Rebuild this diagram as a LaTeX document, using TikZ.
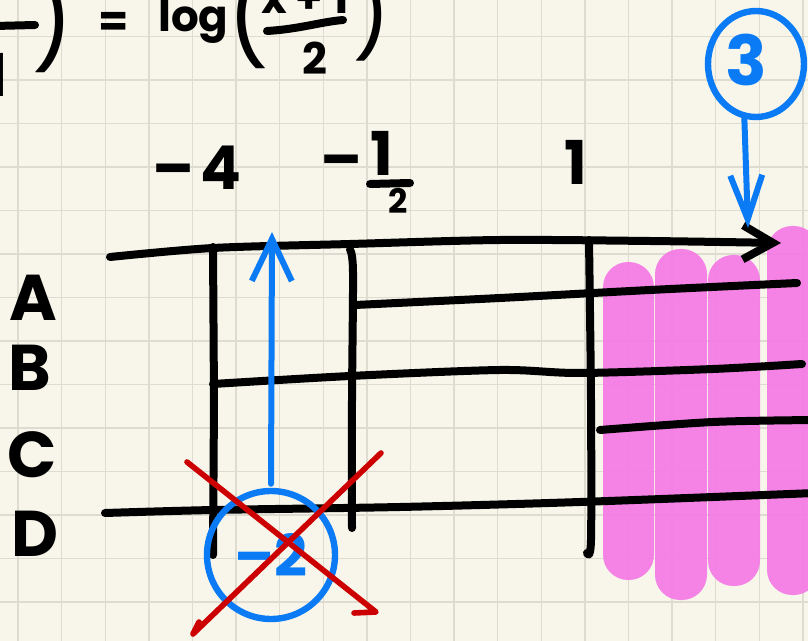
\documentclass[tikz,border=0pt]{standalone}
\usepackage{fontspec}
\setmainfont{Poppins}
\usepackage{tikz}
\usetikzlibrary{arrows.meta,calc,shapes.geometric}
\definecolor{paper}{HTML}{F8F6EB}
\definecolor{gridcol}{HTML}{DEDCD1}
\definecolor{inkblue}{HTML}{0A7BF4}
\definecolor{inkred}{HTML}{CC0000}
\definecolor{marker}{HTML}{F57AE6}
\newcommand\hsz[1]{\fontsize{#1}{#1}\selectfont}
\tikzset{
  hand/.style   ={inner sep=0pt, font=\bfseries},
  rowlab/.style ={hand, font=\bfseries\hsz{46}},
  ticklab/.style={hand, font=\bfseries\hsz{43}, anchor=base},
  formula/.style={hand, font=\bfseries\hsz{31}, anchor=base},
  paren/.style  ={hand, font=\hsz{66}},
  ink/.style    ={draw=black, line width=2mm, line cap=round, line join=round},
  blueink/.style={draw=inkblue, line width=1.5mm, line cap=round, line join=round},
  redink/.style ={draw=inkred, line width=1.4mm, line cap=round, line join=round},
  ring/.style   ={ellipse, draw=inkblue, line width=1.6mm, inner sep=0pt,
                  text=inkblue, font=\bfseries\hsz{41}},
  bar/.style    ={fill=marker, fill opacity=0.92, rounded corners=6.3mm},
  gridrule/.style={draw=gridcol, line width=0.35mm},
  % open hand-drawn heads
  upbarb/.style ={-{Straight Barb[length=10.5mm,width=10mm]}},
  axisbarb/.style={-{Straight Barb[length=7.5mm,width=8.5mm]}},
}
% pink marker strokes: x1/y1/x2/y2
\def\barlist{603/262/654/580, 655/249/707/600, 708/255/760/586, 767/226/819/595}
\def\rowlist{A/33/298, B/30/368, C/32/455, D/35/534}

\begin{document}
\begin{tikzpicture}[x=0.25mm,y=-0.25mm]
\useasboundingbox (0,0) rectangle (808,641);
\clip (0,0) rectangle (808,641);
% --- paper and squares ---
\fill[paper] (0,0) rectangle (808,641);
\foreach \i in {0,...,18}
  {\draw[gridrule] ({18+43.6*\i},0) -- ({18+43.6*\i},641);}
\foreach \j in {0,...,14}
  {\draw[gridrule] (0,{36.5+43.5*\j}) -- (808,{36.5+43.5*\j});}
% --- marker ---
\foreach \xa/\ya/\xb/\yb in \barlist
  {\fill[bar] (\xa,\ya) rectangle (\xb,\yb);}
% --- formula left over from above ---
\draw[ink] (-5,26) -- (35,25);
\node[formula,font=\bfseries\hsz{42}] (lone) at (-3,97) {1};
\node[paren] (lparA) at (53,21) {)};
\node[formula] (eq) at (114,37) {=};
\node[formula,anchor=base west] (logw) at (158,32) {log};
\node[paren] (lparB) at (249,17) {(};
\node[formula] (numr) at (305,14) {x + 1};
\draw[ink] (267,31) .. controls (300,29) and (320,22) .. (343,20);
\node[formula] (denm) at (315,75) {2};
\node[paren,font=\hsz{60}] (rparB) at (372,14) {)};
% --- tick values ---
\node[ticklab] (tfour) at (197,190) {–\hspace{1.5mm}4};
\node[ticklab] (thalfm) at (342,181) {–};
\node[ticklab] (thalfn) at (382,176) {1};
\node[ticklab,font=\bfseries\hsz{24}] (thalfd) at (398,214) {2};
\draw[ink] (370,184) -- (410,183);
\node[ticklab] (tone) at (576,185) {1};
% --- row names ---
\foreach \n/\x/\y in \rowlist
  {\node[rowlab] (row\n) at (\x,\y) {\n};}
% --- sign chart ---
\draw[ink,axisbarb] plot[smooth] coordinates
  {(110,257) (213,248) (350,244) (500,240) (650,241) (781,243)};
\draw[ink] (213,247) -- (214,400) -- (213,555);
\draw[ink] plot[smooth] coordinates {(350,250) (353,272) (352,400) (352,528)};
\draw[ink] plot[smooth] coordinates {(589,240) (591,400) (591,540) (587,553)};
\draw[ink] plot[smooth] coordinates {(355,305) (500,298) (650,290) (797,283)};
\draw[ink] plot[smooth] coordinates {(213,384) (350,376) (500,370) (580,373) (713,369) (802,364)};
\draw[ink] plot[smooth] coordinates {(600,430) (713,422) (815,420)};
\draw[ink] plot[smooth] coordinates {(105,513) (213,510) (400,507) (580,502) (815,493)};
% --- blue notes ---
\node[ring,minimum width=24mm,minimum height=26.5mm] (three) at (756,64) {};
\node[hand,text=inkblue,font=\bfseries\hsz{49}] (threetxt) at ($(three.center)+(-10,-4)$) {3};
\coordinate (tipthree) at (748,228);
\draw[blueink,-{Straight Barb[length=11mm,width=8mm]}] (three.-102) -- (tipthree);
\node[ring,minimum width=32mm,minimum height=32mm] (mtwo) at (271,555) {–2};
\coordinate (tipup) at (272,232);
\draw[blueink,upbarb,shorten <=1mm] (mtwo.north) -- (tipup);
% --- crossed out ---
\draw[redink] (187,462) -- (376,612) -- (354,613);
\draw[redink] (381,453) -- (193,634) -- (199,622);
\end{tikzpicture}
\end{document}
